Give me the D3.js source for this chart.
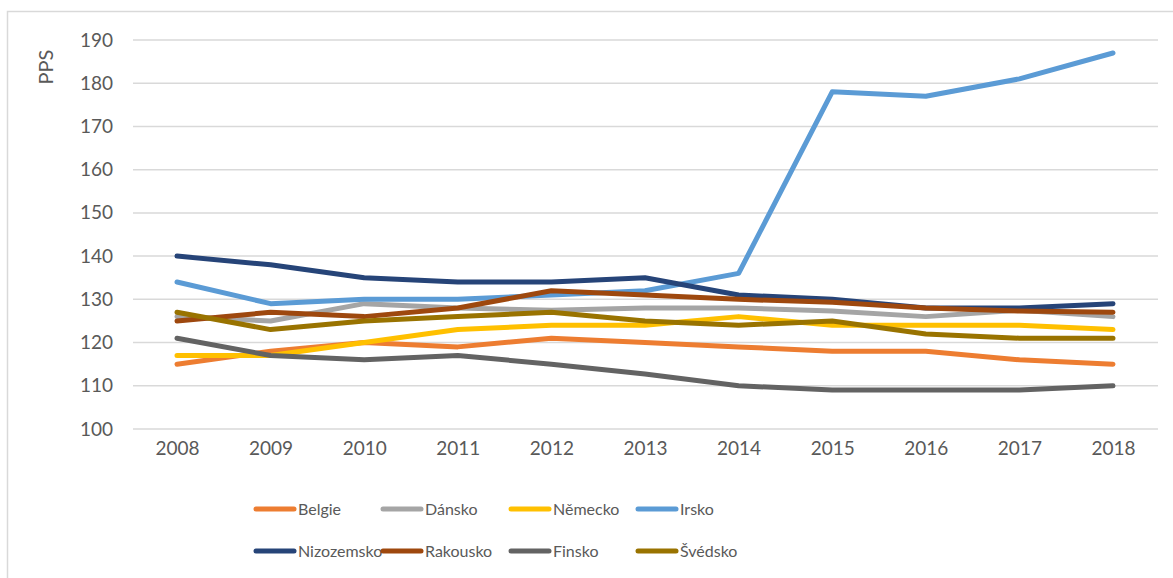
<!DOCTYPE html>
<html>
<head>
<meta charset="utf-8">
<script src="https://cdn.jsdelivr.net/npm/d3@7"></script>
<style>
  body { margin: 0; background: #fff; }
  svg { display: block; }
</style>
</head>
<body>
<script>
// data
var years = [2008, 2009, 2010, 2011, 2012, 2013, 2014, 2015, 2016, 2017, 2018];
var countries = ['Belgie', 'Dánsko', 'Německo', 'Irsko', 'Nizozemsko', 'Rakousko', 'Finsko', 'Švédsko'];
var belgie     = [115, 118, 120, 119, 121, 120, 119, 118, 118, 116, 115];
var dansko     = [126, 125, 129, 128, 127.5, 128, 128, 127.3, 126, 127.5, 126];
var nemecko    = [117, 117, 120, 123, 124, 124, 126, 124, 124, 124, 123];
var irsko      = [134, 129, 130, 130, 131, 132, 136, 178, 177, 181, 187];
var nizozemsko = [140, 138, 135, 134, 134, 135, 131, 130, 128, 128, 129];
var rakousko   = [125, 127, 126, 128, 132, 131, 130, 129.3, 128, 127.3, 127];
var finsko     = [121, 117, 116, 117, 115, 112.7, 110, 109, 109, 109, 110];
var svedsko    = [127, 123, 125, 126, 127, 125, 124, 125, 122, 121, 121];
var yTicks = [100, 110, 120, 130, 140, 150, 160, 170, 180, 190];
var colors = ['#ED7D31', '#A5A5A5', '#FFC000', '#5B9BD5', '#264478', '#9E480E', '#636363', '#997300'];

var seriesValues = [belgie, dansko, nemecko, irsko, nizozemsko, rakousko, finsko, svedsko];
var series = countries.map(function(name, i){
	return { name: name, color: colors[i], values: seriesValues[i] };
});

var W = 1173, H = 578;
var font = 'Lato, "Open Sans", sans-serif';
var textColor = '#595959';

var svg = d3.select('body').append('svg')
			.attr('width', W)
			.attr('height', H);

// chart frame
svg.append('rect')
   .attr('x', 7.5).attr('y', 11.5)
   .attr('width', W).attr('height', H)
   .attr('fill', '#fff')
   .attr('stroke', '#d9d9d9')
   .attr('stroke-width', 1.5);

var x = d3.scalePoint()
		  .domain(years)
		  .range([177, 1113]);

var y = d3.scaleLinear()
		  .domain([100, 190])
		  .range([429, 40]);

// gridlines
var grid = svg.append('g');
grid.selectAll('line')
	.data(yTicks)
	.enter()
	.append('line')
	.attr('x1', 133)
	.attr('x2', 1158)
	.attr('y1', function(d){ return y(d); })
	.attr('y2', function(d){ return y(d); })
	.attr('stroke', '#d9d9d9')
	.attr('stroke-width', 1.5);

// y axis labels
var yAxis = svg.append('g')
			   .attr('transform', 'translate(113,0)')
			   .call(d3.axisLeft(y).tickValues(yTicks).tickSize(0).tickPadding(0));
yAxis.select('.domain').remove();
yAxis.selectAll('text')
	 .attr('font-family', font)
	 .attr('font-size', '19px')
	 .attr('fill', textColor);

// x axis labels
var xAxis = svg.append('g')
			   .attr('transform', 'translate(0,441)')
			   .call(d3.axisBottom(x).tickSize(0).tickPadding(0).tickFormat(d3.format('d')));
xAxis.select('.domain').remove();
xAxis.selectAll('text')
	 .attr('font-family', font)
	 .attr('font-size', '19px')
	 .attr('fill', textColor);

// axis title
svg.append('text')
   .attr('transform', 'translate(53,67) rotate(-90)')
   .attr('text-anchor', 'middle')
   .attr('font-family', font)
   .attr('font-size', '20px')
   .attr('fill', textColor)
   .text('PPS');

// lines
var line = d3.line()
			 .x(function(d, i){ return x(years[i]); })
			 .y(function(d){ return y(d); });

svg.append('g')
   .selectAll('path')
   .data(series)
   .enter()
   .append('path')
   .attr('d', function(d){ return line(d.values); })
   .attr('fill', 'none')
   .attr('stroke', function(d){ return d.color; })
   .attr('stroke-width', 5)
   .attr('stroke-linecap', 'round')
   .attr('stroke-linejoin', 'round');

// legend, 4 per row
var legendCols = [256, 383, 511, 638];
var legendRows = [509, 551];
var legend = svg.append('g')
				.selectAll('g')
				.data(series)
				.enter()
				.append('g')
				.attr('transform', function(d, i){
					return 'translate(' + legendCols[i % 4] + ',' + legendRows[Math.floor(i / 4)] + ')';
				});
legend.append('line')
	  .attr('x1', 0).attr('x2', 38)
	  .attr('y1', 0).attr('y2', 0)
	  .attr('stroke', function(d){ return d.color; })
	  .attr('stroke-width', 5)
	  .attr('stroke-linecap', 'round');
legend.append('text')
	  .attr('x', 42)
	  .attr('dy', '0.35em')
	  .attr('font-family', font)
	  .attr('font-size', '16px')
	  .attr('fill', textColor)
	  .text(function(d){ return d.name; });
</script>
</body>
</html>
